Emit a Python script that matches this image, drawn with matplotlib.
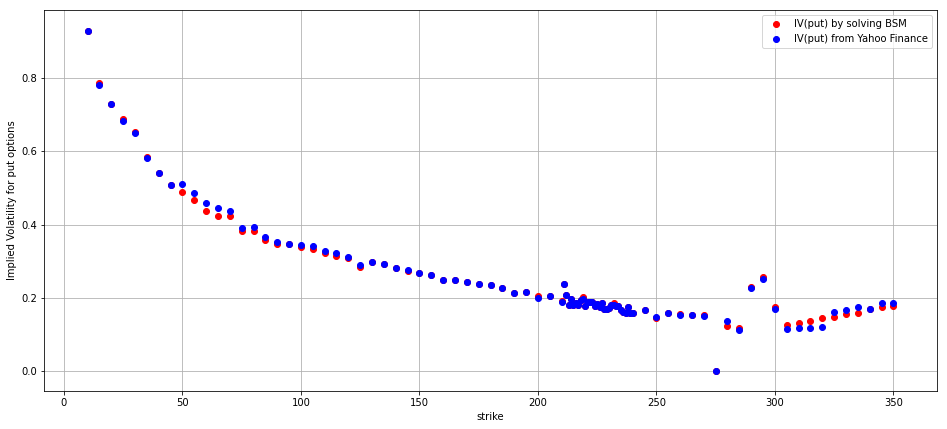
import matplotlib
matplotlib.use("Agg")
import matplotlib.pyplot as plt

strike = [10, 15, 20, 25, 30, 35, 40, 45, 50, 55, 60, 65, 70, 75, 80, 85, 90, 95, 100, 105,
          110, 115, 120, 125, 130, 135, 140, 145, 150, 155, 160, 165, 170, 175, 180, 185, 190, 195,
          200, 205, 210, 211, 212, 213, 214, 215, 216, 217, 218, 219, 220, 221, 222, 223, 224, 225,
          226, 227, 228, 229, 230, 231, 232, 233, 234, 235, 236, 237, 238, 239, 240, 245, 250, 255,
          260, 265, 270, 275, 280, 285, 290, 295, 300, 305, 310, 315, 320, 325, 330, 335, 340, 345, 350]

iv_bsm = [0.929, 0.788, 0.731, 0.688, 0.652, 0.585, 0.542, 0.509, 0.488, 0.466, 0.438, 0.422, 0.422,
          0.381, 0.383, 0.359, 0.347, 0.346, 0.339, 0.333,
          0.323, 0.314, 0.309, 0.284, 0.297, 0.291, 0.282, 0.272, 0.268, 0.263, 0.247, 0.248, 0.244,
          0.238, 0.234, 0.227, 0.212, 0.216,
          0.204, 0.205, 0.190, 0.236, 0.207, 0.180, 0.196, 0.180, 0.184, 0.180, 0.194, 0.203, 0.178,
          0.189, 0.188, 0.187, 0.178, 0.182, 0.174, 0.184, 0.168, 0.168, 0.172, 0.180, 0.184, 0.178,
          0.177, 0.165, 0.160, 0.159, 0.173, 0.157, 0.158, 0.167, 0.143, 0.158,
          0.156, 0.152, 0.152, 0.0, 0.121, 0.117, 0.229, 0.256, 0.174, 0.125, 0.130, 0.135, 0.143,
          0.146, 0.154, 0.159, 0.168, 0.173, 0.178]

iv_yahoo = [0.929, 0.781, 0.731, 0.682, 0.650, 0.581, 0.542, 0.509, 0.510, 0.485, 0.458, 0.444, 0.436,
            0.391, 0.393, 0.367, 0.353, 0.348, 0.345, 0.340,
            0.328, 0.321, 0.312, 0.288, 0.297, 0.291, 0.282, 0.276, 0.268, 0.263, 0.247, 0.248, 0.244,
            0.238, 0.234, 0.227, 0.212, 0.216,
            0.198, 0.205, 0.188, 0.236, 0.207, 0.180, 0.196, 0.180, 0.184, 0.180, 0.194, 0.196, 0.178,
            0.189, 0.188, 0.187, 0.178, 0.182, 0.174, 0.184, 0.168, 0.168, 0.172, 0.180, 0.180, 0.178,
            0.177, 0.165, 0.160, 0.159, 0.173, 0.157, 0.158, 0.167, 0.146, 0.158,
            0.153, 0.152, 0.149, 0.0, 0.135, 0.111, 0.225, 0.252, 0.168, 0.113, 0.116, 0.116, 0.119,
            0.162, 0.166, 0.173, 0.168, 0.184, 0.186]

W, H = 947, 429
fig = plt.figure(figsize=(W / 72, H / 72), dpi=72)
ax = fig.add_axes([44 / W, 1 - 391 / H, (937 - 44) / W, (391 - 10) / H])

ax.scatter(strike, iv_bsm, c='r', s=36, label='IV(put) by solving BSM')
ax.scatter(strike, iv_yahoo, c='b', s=36, label='IV(put) from Yahoo Finance')
ax.set_xlim(-8.4, 368.4)
ax.set_ylim(-0.0555, 0.987)
ax.grid(True, color='#b0b0b0', linewidth=0.8)
ax.set_axisbelow(True)
ax.set_xlabel('strike')
ax.set_ylabel('Implied Volatility for put options')
ax.legend(loc='upper right')

fig.savefig('out.png', dpi=72)
